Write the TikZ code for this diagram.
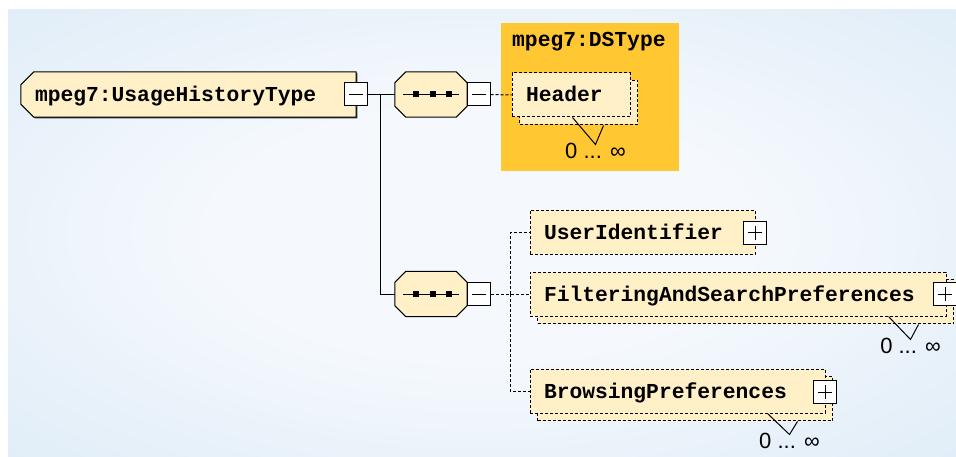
\documentclass[tikz,border=0pt]{standalone}
\usepackage{fontspec}
\usepackage{tikz}
\usetikzlibrary{shadows, calc, backgrounds}
\newfontfamily\codefont{Liberation Mono}
\newfontfamily\numfont{Liberation Sans}
\definecolor{bgin}{RGB}{245,249,253}
\definecolor{bgout}{RGB}{211,229,244}
\definecolor{elemfill}{RGB}{255,240,200}
\definecolor{dsorange}{RGB}{255,200,50}
\pgfdeclareradialshading{bgglow}{\pgfpoint{0bp}{0bp}}{color(0bp)=(bgin); color(14bp)=(bgin); color(50bp)=(bgout)}

\tikzset{
  typetext/.style={font=\codefont\bfseries\fontsize{21.3}{24}\selectfont, text height=14pt, text depth=0pt, inner xsep=14pt, inner ysep=0pt, align=left},
  typebox/.style={typetext, minimum height=45pt},
  typeframe/.style={draw, line width=1pt, fill=elemfill, drop shadow={shadow xshift=1.2pt, shadow yshift=-1.2pt, fill=black!80, opacity=1}},
  seqbox/.style={minimum width=72pt, minimum height=45pt, inner sep=0pt,
    path picture={
      \draw[line width=1pt] ([xshift=-28pt]path picture bounding box.center) -- ([xshift=28pt]path picture bounding box.center);
      \foreach \dx in {-15,1.5,18}
        \fill[black] ([xshift=\dx pt]path picture bounding box.center) +(-3pt,-3pt) rectangle +(3pt,3pt);
    }},
  seqframe/.style={draw, line width=1pt, fill=elemfill},
  elembox/.style={typetext, draw, line width=1pt, dash pattern=on 3pt off 2pt, fill=elemfill, minimum height=44pt},
  manybox/.style={elembox, copy shadow={shadow xshift=7.5pt, shadow yshift=-7.5pt, fill=elemfill, draw=black, line width=1pt, dash pattern=on 3pt off 2pt}},
  togglebox/.style={draw, line width=1pt, fill=white, minimum size=23pt, inner sep=0pt},
  minusbox/.style={togglebox, path picture={
      \draw ([xshift=-7pt]path picture bounding box.center) -- ([xshift=7pt]path picture bounding box.center);}},
  plusbox/.style={togglebox, path picture={
      \draw ([xshift=-7pt]path picture bounding box.center) -- ([xshift=7pt]path picture bounding box.center);
      \draw ([yshift=-7pt]path picture bounding box.center) -- ([yshift=7pt]path picture bounding box.center);}},
  conn/.style={line width=1pt},
  dconn/.style={line width=1pt, dash pattern=on 3pt off 2pt},
  multtext/.style={font=\numfont\fontsize{22}{24}\selectfont, anchor=base, yshift=-14pt, inner sep=0pt}
}

\begin{document}
\begin{tikzpicture}[x=1pt, y=-1pt]
\useasboundingbox (0,0) rectangle (956,457);

% DSType group
\node[fill=dsorange, minimum width=178pt, minimum height=148pt, inner sep=0pt] (ds) at (590,97) {};
\node[typetext, anchor=base west, inner xsep=0pt] (dslbl) at (512,47) {mpeg7:DSType};

% types and sequences
\node[typebox, text width=307pt] (root) at (188.5,94.5) {mpeg7:UsageHistoryType};
\node[minusbox] (rootm) at (356,94.5) {};
\node[seqbox] (seq1) at (431,94.5) {};
\node[minusbox] (seq1m) at (478.5,94.5) {};
\node[seqbox] (seq2) at (431,294) {};
\node[minusbox] (seq2m) at (479,294) {};

% elements
\node[manybox, text width=90pt] (hdr) at (571,95) {Header};
\node[elembox, text width=197pt] (uid) at (642.5,232.5) {UserIdentifier};
\node[plusbox] (uidp) at (755,233) {};
\node[manybox, text width=388pt] (filt) at (738,294) {FilteringAndSearchPreferences};
\node[plusbox] (filtp) at (945,294) {};
\node[manybox, text width=267pt] (brw) at (677.5,391) {BrowsingPreferences};
\node[plusbox] (brwp) at (825,392) {};

% frames under the nodes
\begin{pgfonlayer}{background}
\shade[shading=bgglow] (8,10) rectangle (956,457);
\filldraw[typeframe] ($(root.north west)+(13,0)$) -- (root.north east) -- (root.south east)
  -- ($(root.south west)+(13,0)$) -- ($(root.south west)+(0,-13)$) -- ($(root.north west)+(0,13)$) -- cycle;
\foreach \n in {seq1,seq2}
  \filldraw[seqframe] ($(\n.north west)+(11,0)$) -- ($(\n.north east)+(-11,0)$) -- ($(\n.north east)+(0,11)$)
    -- ($(\n.south east)+(0,-11)$) -- ($(\n.south east)+(-11,0)$) -- ($(\n.south west)+(11,0)$)
    -- ($(\n.south west)+(0,-11)$) -- ($(\n.north west)+(0,11)$) -- cycle;
\end{pgfonlayer}

% connectors
\coordinate (fork1) at (380,94.5);
\coordinate (fork2) at (510,294);
\draw[conn] (rootm.east) -- (seq1.west);
\draw[conn] (fork1) |- (seq2.west);
\draw[dconn] (seq1m.east) -- (hdr.west);
\draw[dconn] (seq2m.east) -- (filt.west);
\draw[dconn] (fork2) |- (uid.west);
\draw[dconn] (fork2) |- (brw.west);

% occurrences
\draw[conn] ($(hdr.south east)+(-58,0)$) -- ++(23,27) coordinate (hdrv) -- ++(8,-19);
\node[multtext] (hdrmult) at (hdrv) {0 ... ∞};
\draw[conn] ($(filt.south east)+(-58,0)$) -- ++(22,23) coordinate (filtv) -- ++(8,-15);
\node[multtext] (filtmult) at (filtv) {0 ... ∞};
\draw[conn] ($(brw.south east)+(-58,0)$) -- ++(22,21) coordinate (brwv) -- ++(8,-13);
\node[multtext] (brwmult) at (brwv) {0 ... ∞};
\end{tikzpicture}
\end{document}
